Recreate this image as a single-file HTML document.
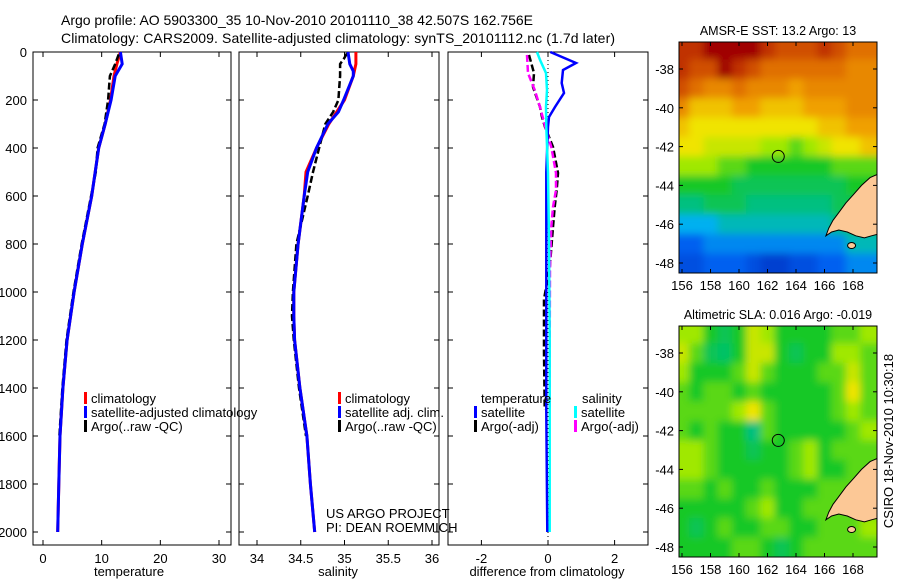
<!DOCTYPE html>
<html><head><meta charset="utf-8">
<style>
html,body{margin:0;padding:0;background:#fff;}
svg{display:block;font-family:"Liberation Sans",sans-serif;}
</style></head>
<body>
<svg id="fig" width="900" height="580" viewBox="0 0 900 580">
<defs>
<filter id="blur" filterUnits="userSpaceOnUse" x="640" y="0" width="260" height="580"><feGaussianBlur stdDeviation="4"/></filter>
<clipPath id="clip1"><rect x="679" y="42" width="198" height="231"/></clipPath>
<clipPath id="clip2"><rect x="679" y="326" width="198" height="231"/></clipPath>
</defs>
<text x="61" y="25" font-size="14" textLength="472">Argo profile: AO 5903300_35 10-Nov-2010 20101110_38 42.507S 162.756E</text>
<text x="61" y="43" font-size="14" textLength="554">Climatology: CARS2009. Satellite-adjusted climatology: synTS_20101112.nc (1.7d later)</text>
</svg>
<script>
// ---------- data ----------
const depthTicks=[0,200,400,600,800,1000,1200,1400,1600,1800,2000];
const tempTicks=[0,10,20,30];
const salTicks=[34,34.5,35,35.5,36];
const diffTicks=[-2,0,2];

const tClimDepth=[0,50,100,200,300,400,500,600,800,1000,1200,1400,1600,1800,2000];
const tClimVal=[13.2,12.6,12.1,11.5,10.6,9.5,8.9,8.3,6.7,5.3,4.1,3.4,2.9,2.7,2.5];
const tSatDepth=[0,50,100,200,300,400,500,600,800,1000,1200,1400,1600,1800,2000];
const tSatVal=[13.2,13.5,12.3,11.6,10.6,9.5,8.9,8.3,6.7,5.3,4.1,3.4,2.9,2.7,2.5];
const tArgoDepth=[10,50,100,200,300,400,500,600,800,1000,1200,1400,1600];
const tArgoVal=[12.9,12.3,11.4,11.1,10.5,9.3,9.0,8.2,6.6,5.2,4.0,3.3,2.8];

const sClimDepth=[0,50,100,200,300,400,500,600,800,1000,1100,1200,1400,1600,1800,2000];
const sClimVal=[35.13,35.13,35.1,35.0,34.82,34.68,34.56,34.54,34.47,34.42,34.42,34.43,34.49,34.57,34.61,34.66];
const sSatDepth=[0,50,80,100,200,250,300,400,500,600,800,1000,1100,1200,1400,1600,1800,2000];
const sSatVal=[35.04,35.06,35.1,35.1,34.99,34.93,34.81,34.68,34.58,34.54,34.47,34.42,34.42,34.43,34.49,34.57,34.61,34.66];
const sArgoDepth=[5,30,50,100,150,200,250,300,400,500,600,800,1000,1100,1200,1400,1600];
const sArgoVal=[35.03,34.99,34.95,34.95,34.94,34.93,34.87,34.78,34.71,34.64,34.58,34.45,34.41,34.40,34.42,34.48,34.56];

const dTSatDepth=[0,46,75,129,171,229,271,312,500,1000,1500,2000];
const dTSatVal=[0.07,0.84,0.45,0.41,0.48,0.21,0.03,0.0,-0.05,-0.05,-0.05,-0.02];
const dSSatDepth=[0,33,88,158,229,312,504,783,1200,1600,2000];
const dSSatVal=[-0.33,-0.24,-0.06,-0.03,-0.06,-0.05,0.0,0.03,0.05,0.05,0.05];
const dTArgoDepth=[12,88,146,229,271,312,396,504,575,646,729,900,1030,1250,1490];
const dTArgoVal=[-0.57,-0.42,-0.45,-0.24,-0.18,-0.09,0.15,0.3,0.26,0.2,0.15,0.05,-0.12,-0.12,-0.1];
const dSArgoDepth=[12,88,158,229,312,396,504,575,646,729,900,1200,1490];
const dSArgoVal=[-0.63,-0.6,-0.4,-0.24,-0.08,0.1,0.24,0.24,0.15,0.1,0.06,0.05,0.05];

const lonTicks=[156,158,160,162,164,166,168];
const latTicks=[-38,-40,-42,-44,-46,-48];
const gridLons=[156,157,158,159,160,161,162,163,164,165,166,167,168,169];
const gridLats=[-37,-38,-39,-40,-41,-42,-43,-44,-45,-46,-47,-48];
const sstGrid=[
[9.5,9.5,10,10,10,10,9.5,9,9,9,9.5,9,8.5,8.5],
[9.5,9,9,10,9.5,9,8.5,8.5,8.5,8.5,8.5,8.5,8,8],
[9,8.5,8,8,8.5,8,8,8,7.5,8,8,8,8,8],
[8,7,7,7,7.5,7.5,7,7,7,7.5,7.5,7.5,8,8],
[7,6.5,6.5,6.5,6.5,6.5,6.5,6.5,6.5,6.5,7,7,7.5,7.5],
[6.5,6.5,6,6,6,6,5.5,5.5,5,5.5,6,6.5,6.5,7],
[5.5,5.5,5.5,5,5,4.5,4.5,4.5,4.5,4.5,4.5,5,5,5],
[4.5,4.5,4.5,4.5,4,4,4,4,4,4,4,4,4.5,4.5],
[3.5,3.5,4,4,4,3.5,3.5,3.5,3.5,3.5,3.5,4,4,4],
[2.5,2.5,2.5,3,3,3,3,3,3,3,3,3.5,4,4],
[1.5,1.5,2,2,2,2,2,2,2,2,2,2,3,3],
[1,1,1.5,1.5,1.5,1,0.5,0.5,1,1,1.5,1.5,2,2]];
const slaGrid=[
[5.5,5.5,4.5,4,4.5,6,5.5,4.5,4.5,4.5,4.5,5,5,5.5],
[6,5,4,3.8,4.5,6,6,4.5,4,4.5,4.5,5.5,5.5,5],
[5.5,4.5,4.5,4.5,5,6,5,4.5,4.5,4.5,5,5,6,5],
[5,4.5,5,5,4.5,5,4.5,4.5,4.5,4.5,4.5,5,6.5,5],
[5,5,5,5,5.5,6.5,5,4.5,4.5,4.5,4.5,5,5.5,5],
[5,4.5,5,4.5,4.5,3.5,5,4.5,4.5,4.5,4.5,4.5,5,5.5],
[5.5,5.5,5,4.5,4.5,4,4.5,4.5,5,5.5,4.5,5,5,5],
[5.5,5.5,5,4.5,4.5,4.5,4.5,4.5,5,5.5,4.5,4.5,5,5],
[5,5,4.5,5,4.5,4.5,5,4.5,4.5,4.5,5,5,5,5],
[4.5,4.5,4.5,4.5,4.5,5,5.5,4.5,4.5,5,5,5,5,5],
[4.5,4,4.5,5,4.5,4.5,5,5,4.5,4.5,5,5,5,5.5],
[4.5,4.5,4.5,4.5,5,5,4.5,4,4.5,5,5,5,5,5]];
const landLon=[169.8,169.2,168.6,168,167.5,167,166.6,166.3,166.1,166.5,167,167.6,168.2,168.8,169.3,169.8];
const landLat=[-43.4,-43.6,-44,-44.5,-44.9,-45.4,-45.8,-46.2,-46.6,-46.4,-46.3,-46.4,-46.6,-46.7,-46.6,-46.5];
const floatLon=162.756, floatLat=-42.507;

// ---------- helpers ----------
const NS="http://www.w3.org/2000/svg";
const svg=document.getElementById('fig');
function mk(tag,attrs,parent){const e=document.createElementNS(NS,tag);for(const k in attrs)e.setAttribute(k,attrs[k]);(parent||svg).appendChild(e);return e;}
const yD=d=>52+d*0.24;
const xT=v=>43+v*5.867;
const xS=v=>257+(v-34)*87.5;
const xDf=v=>548+v*33.3;
const x1=lon=>682+(lon-156)*14.25;
const yM1=lat=>69+(-38-lat)*19.4;
const yM2=lat=>353+(-38-lat)*19.4;

function panel(x0,x1p,name,ticks,xf,label,lx){
  const g=mk('g',{});
  
  
  const r=mk('rect',{x:x0,y:52,width:x1p-x0,height:493,fill:'none',stroke:'#000','stroke-width':1},g);
  
  
  ticks.forEach(t=>{const x=xf(t);
    mk('line',{x1:x,y1:52,x2:x,y2:57,stroke:'#000'},g);
    mk('line',{x1:x,y1:545,x2:x,y2:540,stroke:'#000'},g);
    const tx=mk('text',{x:x,y:563,'font-size':13,'text-anchor':'middle'},g);tx.textContent=t;
    
    
  });
  depthTicks.forEach(d=>{const y=yD(d);
    mk('line',{x1:x0,y1:y,x2:x0+5,y2:y,stroke:'#000'},g);
    mk('line',{x1:x1p,y1:y,x2:x1p-5,y2:y,stroke:'#000'},g);});
  const lt=mk('text',{x:lx,y:576,'font-size':13,'text-anchor':'middle'},g);lt.textContent=label;
  
  
  return g;
}
function line(g,depths,vals,xf,color,w,dash,name){
  const pts=depths.map((d,i)=>xf(vals[i]).toFixed(1)+','+yD(d).toFixed(1)).join(' ');
  const p=mk('polyline',{points:pts,fill:'none',stroke:color,'stroke-width':w},g);
  if(dash)p.setAttribute('stroke-dasharray',dash);
  
  
}
function legend(g,x,y,items){
  items.forEach((it,i)=>{
    mk('rect',{x:x,y:y+i*14-11,width:3,height:12,fill:it[0]},g);
    const t=mk('text',{x:x+7,y:y+i*14,'font-size':13},g);t.textContent=it[1];
    
    
  });
}

depthTicks.forEach(d=>{const t=mk('text',{x:27,y:yD(d)+5,'font-size':13,'text-anchor':'end'});t.textContent=d;
  
  });

const gT=panel(33,231,'temperature-panel',tempTicks,xT,'temperature',129);
line(gT,tClimDepth,tClimVal,xT,'#ff0000',3,null,'temp-climatology-line');
line(gT,tArgoDepth,tArgoVal,xT,'#000',2.5,'7,3','temp-argo-line');
line(gT,tSatDepth,tSatVal,xT,'#0000ff',3,null,'temp-satellite-line');
legend(gT,84,403,[['#ff0000','climatology'],['#0000ff','satellite-adjusted climatology'],['#000','Argo(..raw -QC)']]);

const gS=panel(239,439,'salinity-panel',salTicks,xS,'salinity',338);
line(gS,sClimDepth,sClimVal,xS,'#ff0000',3,null,'sal-climatology-line');
line(gS,sArgoDepth,sArgoVal,xS,'#000',2.5,'7,3','sal-argo-line');
line(gS,sSatDepth,sSatVal,xS,'#0000ff',3,null,'sal-satellite-line');
legend(gS,338,403,[['#ff0000','climatology'],['#0000ff','satellite adj. clim.'],['#000','Argo(..raw -QC)']]);
const us=mk('text',{x:326,y:518,'font-size':13},gS);us.textContent='US ARGO PROJECT';


const pi=mk('text',{x:326,y:532,'font-size':13},gS);pi.textContent='PI: DEAN ROEMMICH';



const gD=panel(448,648,'difference-panel',diffTicks,xDf,'difference from climatology',547);
const zl=mk('line',{x1:xDf(0),y1:52,x2:xDf(0),y2:545,stroke:'#000','stroke-dasharray':'1,3'},gD);


line(gD,dTArgoDepth,dTArgoVal,xDf,'#000',2.5,'7,3','diff-temp-argo-line');
line(gD,dSArgoDepth,dSArgoVal,xDf,'#ff00ff',2.5,'7,3','diff-sal-argo-line');
line(gD,dTSatDepth,dTSatVal,xDf,'#0000ff',2.5,null,'diff-temp-satellite-line');
line(gD,dSSatDepth,dSSatVal,xDf,'#00ffff',2.5,null,'diff-sal-satellite-line');
const th=mk('text',{x:481,y:403,'font-size':13},gD);th.textContent='temperature';


const sh=mk('text',{x:582,y:403,'font-size':13},gD);sh.textContent='salinity';


legend(gD,474,417,[['#0000ff','satellite'],['#000','Argo(-adj)']]);
legend(gD,574,417,[['#00ffff','satellite'],['#ff00ff','Argo(-adj)']]);

const stops=[[0,[0,48,192]],[1.5,[0,96,240]],[2.5,[0,176,240]],[3.5,[0,192,128]],[4.5,[20,200,40]],[5.5,[160,232,0]],[6.5,[240,228,0]],[7.5,[240,160,0]],[8.5,[224,112,0]],[9.5,[192,48,0]],[10,[160,0,0]]];
function cmap(v){for(let i=1;i<stops.length;i++){if(v<=stops[i][0]){const a=stops[i-1],b=stops[i],f=(v-a[0])/(b[0]-a[0]);
  return 'rgb('+a[1].map((c,k)=>Math.round(c+(b[1][k]-c)*f)).join(',')+')';}}return 'rgb(160,0,0)';}

function drawMap(top,yf,grid,clip,name,title){
  const g=mk('g',{});
  
  
  const cg=mk('g',{'clip-path':'url(#'+clip+')'},g);
  const hg=mk('g',{filter:'url(#blur)'},cg);
  grid.forEach((row,r)=>row.forEach((v,c)=>{
    const xa=x1(gridLons[c]-0.5)-(c===0?15:0), xb=x1(gridLons[c]+0.5)+(c===row.length-1?18:0);
    const ya=yf(gridLats[r]+0.5)-(r===0?15:0), yb=yf(gridLats[r]-0.5)+(r===grid.length-1?15:0);
    const cell=mk('rect',{x:xa.toFixed(1),y:ya.toFixed(1),width:(xb-xa+0.5).toFixed(1),height:(yb-ya+0.5).toFixed(1),fill:cmap(v)},hg);
    
    
  }));
  const pts=landLon.map((lo,i)=>x1(lo).toFixed(1)+','+yf(landLat[i]).toFixed(1)).join(' ');
  const land=mk('polygon',{points:pts,fill:'#fcc896',stroke:'#000','stroke-width':1},cg);
  
  
  const isl=mk('ellipse',{cx:x1(167.9),cy:yf(-47.1),rx:4,ry:3,fill:'#fcc896',stroke:'#000'},cg);
  
  
  const fl=mk('circle',{cx:x1(floatLon),cy:yf(floatLat),r:6,fill:'none',stroke:'#000'},g);
  
  
  const fr=mk('rect',{x:679,y:top,width:198,height:231,fill:'none',stroke:'#000'},g);
  
  
  lonTicks.forEach(lo=>{const x=x1(lo);
    mk('line',{x1:x,y1:top,x2:x,y2:top+4,stroke:'#000'},g);
    mk('line',{x1:x,y1:top+231,x2:x,y2:top+227,stroke:'#000'},g);
    const t=mk('text',{x:x,y:top+248,'font-size':13,'text-anchor':'middle'},g);t.textContent=lo;
    
    });
  latTicks.forEach(la=>{const y=yf(la);
    mk('line',{x1:679,y1:y,x2:683,y2:y,stroke:'#000'},g);
    mk('line',{x1:877,y1:y,x2:873,y2:y,stroke:'#000'},g);
    const t=mk('text',{x:674,y:y+5,'font-size':13,'text-anchor':'end'},g);t.textContent=la;
    
    });
  const tt=mk('text',{x:778,y:top-7,'font-size':12.5,'text-anchor':'middle'},g);tt.textContent=title;
  
  
}
drawMap(42,yM1,sstGrid,'clip1','sst-map','AMSR-E SST: 13.2 Argo: 13');
drawMap(326,yM2,slaGrid,'clip2','sla-map','Altimetric SLA: 0.016 Argo: -0.019');
const st=mk('text',{x:0,y:0,'font-size':13,'text-anchor':'middle',transform:'translate(893,441) rotate(-90)'});
st.textContent='CSIRO 18-Nov-2010 10:30:18';


</script>
</body></html>
